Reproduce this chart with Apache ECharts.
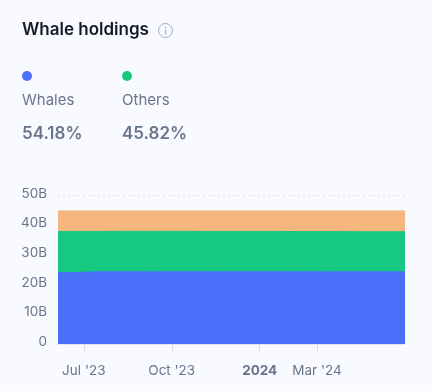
<!DOCTYPE html>
<html><head><meta charset="utf-8">
<style>html,body{margin:0;padding:0;background:#f9faff}#c{width:432px;height:391px}</style>
<script src="https://cdn.jsdelivr.net/npm/echarts@6/dist/echarts.min.js"></script>
</head><body><div id="c"></div>
<script>
var dates = ['2023-06-04','2023-06-11','2023-06-12','2023-07-15','2023-08-10','2023-09-15','2023-10-15','2023-11-15','2023-12-15','2024-01-15','2024-02-15','2024-03-15','2024-04-15','2024-05-15','2024-06-01'];
var whales = [24.0,24.0,24.3,24.3,24.3,24.3,24.3,24.3,24.3,24.3,24.3,24.3,24.3,24.3,24.3];
var others = [13.9,13.9,13.6,13.6,13.65,13.65,13.65,13.6,13.6,13.6,13.55,13.55,13.5,13.5,13.5];
var rest   = [7.0,7.0,7.0,7.0,6.95,6.95,6.95,7.0,7.0,7.0,7.05,7.05,7.1,7.1,7.1];
var tickDates = ['2023-07-01','2023-10-01','2024-01-01','2024-03-01'];
var tickLabels = ["Jul '23","Oct '23","{b|2024}","Mar '24"];
var legendNames = ['Whales','Others'];
var legendValues = ['54.18%','45.82%'];
var C = {blue:'#4a6ff9', green:'#17c881', orange:'#f6b77f', text:'#69758c', title:'#141a28'};
var F = 'Inter';
function ts(d){return Date.parse(d+'T00:00:00Z');}
// running totals: the value axis places each layer on top of the ones below it
function totals(layers){return dates.map(function(d,i){
  return [ts(d),layers.reduce(function(s,l){return s+l[i];},0)];});}
function ser(name,layers,col,edge){return {name:name,type:'line',symbol:'none',data:totals(layers),
  lineStyle:{width:1,color:edge},areaStyle:{color:col,opacity:1,origin:'start'},itemStyle:{color:col},z:2};}
var chart = echarts.init(document.getElementById('c'),null,{renderer:'canvas'});
var tickTs = tickDates.map(ts);
var g = [
 {type:'text',left:22,top:21,style:{text:'Whale holdings',font:'600 17px '+F,fill:C.title}},
 {type:'circle',shape:{cx:165.5,cy:30.5,r:7},style:{fill:'none',stroke:'#a3adc2',lineWidth:1}},
 {type:'rect',shape:{x:165,y:29.5,width:1.2,height:5},style:{fill:'#a3adc2'}},
 {type:'rect',shape:{x:165,y:26.8,width:1.2,height:1.3},style:{fill:'#a3adc2'}}
];
[[27,22,C.blue],[127,122,C.green]].forEach(function(p,i){
 g.push({type:'circle',shape:{cx:p[0],cy:76,r:5},style:{fill:p[2]}});
 g.push({type:'text',left:p[1],top:93,style:{text:legendNames[i],font:'400 15px '+F,fill:C.text}});
 g.push({type:'text',left:p[1],top:125,style:{text:legendValues[i],font:'600 17px '+F,fill:C.text}});
});
chart.setOption({
 animation:false,backgroundColor:'#f9faff',
 graphic:g,
 grid:{left:58,right:27,top:195.5,height:148.5,containLabel:false},
 xAxis:{type:'value',min:ts('2023-06-04'),max:ts('2024-06-01'),
  axisLine:{show:true,lineStyle:{color:'#e3e5eb',width:2}},
  axisTick:{show:true,customValues:tickTs,length:8,lineStyle:{color:'#dcdfe6',width:1}},
  splitLine:{show:false},
  axisLabel:{customValues:tickTs,margin:20,hideOverlap:false,showMinLabel:true,showMaxLabel:true,
   color:C.text,fontFamily:F,fontSize:13.5,
   formatter:function(v){return tickLabels[tickTs.indexOf(v)];},
   rich:{b:{fontWeight:700,fontFamily:F,fontSize:13.5,color:C.text}}}},
 yAxis:{type:'value',min:0,max:50,interval:10,
  axisLine:{show:false},axisTick:{show:false},
  splitLine:{show:true,lineStyle:{color:'#e0e3ea',type:[2,3],width:1},showMinLine:false},
  axisLabel:{margin:11,color:C.text,fontFamily:F,fontSize:13.5,
   rich:{a:{fontFamily:F,fontSize:13.5,color:C.text,padding:[0,0,4,0]}},
   formatter:function(v){return '{a|'+(v===0?'0':v+'B')+'}';}}},
 series:[ser('Rest',[whales,others,rest],C.orange,'#f8cba3'),ser('Others',[whales,others],C.green,C.green),ser('Whales',[whales],C.blue,C.blue)]
});
</script></body></html>
